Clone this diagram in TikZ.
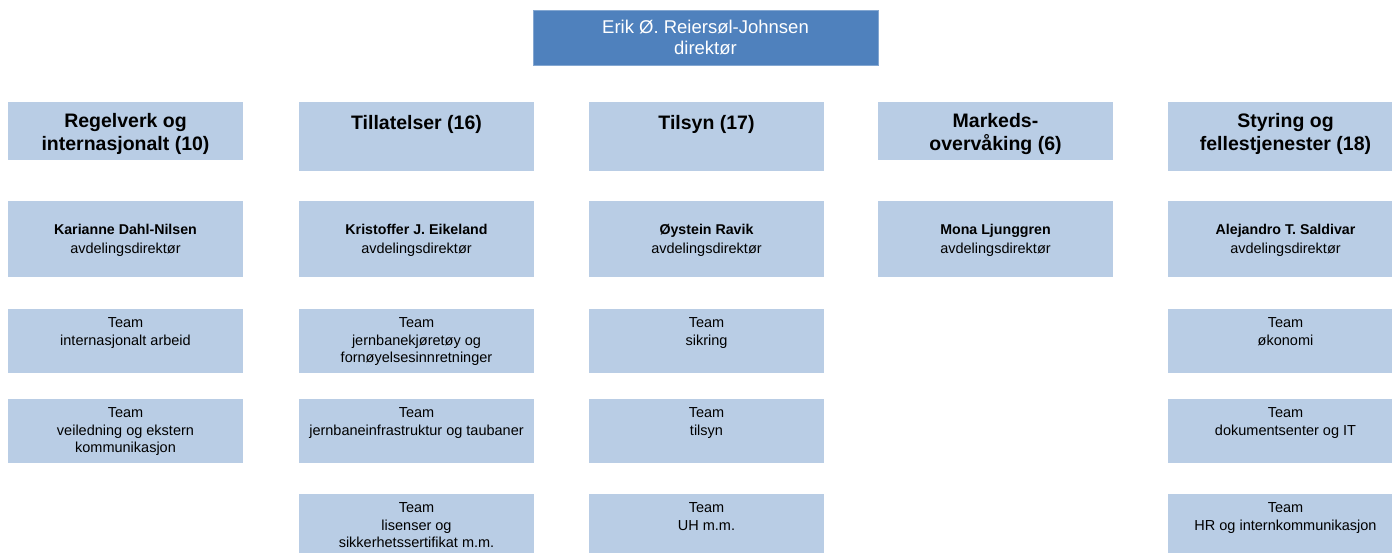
\documentclass[tikz,border=0pt]{standalone}
\usepackage{fontspec}
\setmainfont{Liberation Sans}
\definecolor{darkblue}{RGB}{79,129,189}
\definecolor{lightblue}{RGB}{185,205,229}
\tikzset{
  box/.style={rectangle, fill=lightblue, inner sep=0pt, outer sep=0pt, anchor=north west, minimum width=235pt},
  topbox/.style={rectangle, fill=darkblue, draw=darkblue!70!white, line width=0.6pt, inner sep=0pt, outer sep=0pt, anchor=north west, minimum width=345pt, minimum height=55pt},
  toptxt/.style={text=white, align=center, inner sep=0pt, font=\fontsize{18.5}{21.5}\selectfont},
  hdrtxt/.style={anchor=north, align=center, inner sep=0pt, font=\bfseries\fontsize{19.5}{23.5}\selectfont, execute at begin node={\rule{0pt}{16pt}}},
  dirtxt/.style={anchor=north, align=center, inner sep=0pt, font=\fontsize{14.5}{18.3}\selectfont, execute at begin node={\rule{0pt}{12pt}}},
  teamtxt/.style={anchor=north, align=center, inner sep=0pt, font=\fontsize{14.5}{17.2}\selectfont, execute at begin node={\rule{0pt}{12pt}}},
}
\newcommand{\nm}[1]{{\bfseries\fontsize{14.2}{18.3}\selectfont #1}}
\begin{document}
\begin{tikzpicture}[x=1pt,y=-1pt]
\useasboundingbox (0,0) rectangle (1392,552);
\clip (0,0) rectangle (1392,552);
% top
\node[topbox] (top) at (533,10) {};
\node[toptxt] (toptext) at (top.center) {Erik Ø. Reiersøl-Johnsen\\direktør};
% headers
\node[box, minimum height=58pt] (h1) at (8,102) {};
\node[box, minimum height=69pt] (h2) at (299,102) {};
\node[box, minimum height=69pt] (h3) at (589,102) {};
\node[box, minimum height=58pt] (h4) at (878,102) {};
\node[box, minimum height=69pt] (h5) at (1168,102) {};
\node[hdrtxt] (h1t) at ([yshift=-11pt]h1.north) {Regelverk og\\internasjonalt (10)};
\node[hdrtxt] (h2t) at ([yshift=-11pt]h2.north) {Tillatelser (16)};
\node[hdrtxt] (h3t) at ([yshift=-11pt]h3.north) {Tilsyn (17)};
\node[hdrtxt] (h4t) at ([yshift=-11pt]h4.north) {Markeds-\\overvåking (6)};
\node[hdrtxt] (h5t) at ([yshift=-11pt]h5.north) {Styring og\\fellestjenester (18)};
% directors
\node[box, minimum height=76pt] (d1) at (8,201) {};
\node[box, minimum height=76pt] (d2) at (299,201) {};
\node[box, minimum height=76pt] (d3) at (589,201) {};
\node[box, minimum height=76pt] (d4) at (878,201) {};
\node[box, minimum height=76pt] (d5) at (1168,201) {};
\node[dirtxt] (d1t) at ([yshift=-23.5pt]d1.north) {\nm{Karianne Dahl-Nilsen}\\avdelingsdirektør};
\node[dirtxt] (d2t) at ([yshift=-23.5pt]d2.north) {\nm{Kristoffer J. Eikeland}\\avdelingsdirektør};
\node[dirtxt] (d3t) at ([yshift=-23.5pt]d3.north) {\nm{Øystein Ravik}\\avdelingsdirektør};
\node[dirtxt] (d4t) at ([yshift=-23.5pt]d4.north) {\nm{Mona Ljunggren}\\avdelingsdirektør};
\node[dirtxt] (d5t) at ([yshift=-23.5pt]d5.north) {\nm{Alejandro T. Saldivar}\\avdelingsdirektør};
% teams row 1
\node[box, minimum height=64pt] (t11) at (8,309) {};
\node[box, minimum height=64pt] (t21) at (299,309) {};
\node[box, minimum height=64pt] (t31) at (589,309) {};
\node[box, minimum height=64pt] (t51) at (1168,309) {};
% teams row 2
\node[box, minimum height=64pt] (t12) at (8,399) {};
\node[box, minimum height=64pt] (t22) at (299,399) {};
\node[box, minimum height=64pt] (t32) at (589,399) {};
\node[box, minimum height=64pt] (t52) at (1168,399) {};
% teams row 3
\node[box, minimum height=64pt] (t23) at (299,494) {};
\node[box, minimum height=64pt] (t33) at (589,494) {};
\node[box, minimum height=64pt] (t53) at (1168,494) {};
% team texts
\node[teamtxt] (t11t) at ([yshift=-8.8pt]t11.north) {Team\\internasjonalt arbeid};
\node[teamtxt] (t21t) at ([yshift=-8.8pt]t21.north) {Team\\jernbanekjøretøy og\\fornøyelsesinnretninger};
\node[teamtxt] (t31t) at ([yshift=-8.8pt]t31.north) {Team\\sikring};
\node[teamtxt] (t51t) at ([yshift=-8.8pt]t51.north) {Team\\økonomi};
\node[teamtxt] (t12t) at ([yshift=-8.8pt]t12.north) {Team\\veiledning og ekstern\\kommunikasjon};
\node[teamtxt] (t22t) at ([yshift=-8.8pt]t22.north) {Team\\jernbaneinfrastruktur og taubaner};
\node[teamtxt] (t32t) at ([yshift=-8.8pt]t32.north) {Team\\tilsyn};
\node[teamtxt] (t52t) at ([yshift=-8.8pt]t52.north) {Team\\dokumentsenter og IT};
\node[teamtxt] (t23t) at ([yshift=-8.8pt]t23.north) {Team\\lisenser og\\sikkerhetssertifikat m.m.};
\node[teamtxt] (t33t) at ([yshift=-8.8pt]t33.north) {Team\\UH m.m.};
\node[teamtxt] (t53t) at ([yshift=-8.8pt]t53.north) {Team\\HR og internkommunikasjon};
\end{tikzpicture}
\end{document}
